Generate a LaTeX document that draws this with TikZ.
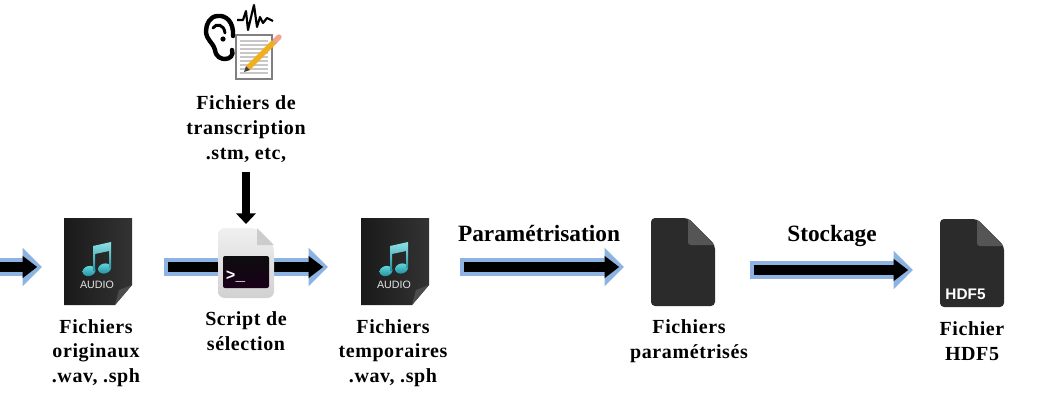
\documentclass[tikz,border=0pt]{standalone}
\usepackage{fontspec}
\setmainfont{Liberation Serif}
\setsansfont{Liberation Sans}
\setmonofont{Liberation Mono}
\usetikzlibrary{calc, arrows.meta}

\definecolor{bleufleche}{HTML}{8DB3E2}
\definecolor{fonce}{HTML}{2B2B2B}
\definecolor{pli}{HTML}{555555}
\definecolor{cyanaudio}{HTML}{5FD3DA}
\definecolor{tealaudio}{HTML}{1F8E9C}
\definecolor{crayon}{HTML}{F2AE1C}
\definecolor{gomme}{HTML}{F0A58C}

\tikzset{
	legende/.style={font=\fontsize{15pt}{18.6pt}\selectfont\bfseries\addfontfeature{LetterSpace=3}, align=center, inner sep=0pt},
	titre/.style={font=\fontsize{17.5pt}{19pt}\selectfont\bfseries, inner sep=0pt, anchor=base},
	flechebleue/.style={draw=bleufleche, line width=14pt, -{Triangle[length=14.5pt, width=28pt, color=bleufleche]}},
	flechenoire/.style={draw=black, line width=7.5pt, shorten <=3pt, shorten >=3.6pt, -{Triangle[length=11pt, width=16pt]}},
	audio/.pic={
		\shade[left color=black!90, right color=black!80] (0,0) -- (68,0) -- (68,67) -- (51,87) -- (0,87) -- cycle;
		\fill[black!70] (68,67) -- (55,72) -- (51,87) -- cycle;
		\shade[top color=cyanaudio, bottom color=tealaudio, rotate around={15:(25,53)}] (25,53) ellipse [x radius=6.5, y radius=5];
		\shade[top color=cyanaudio, bottom color=tealaudio, rotate around={15:(40.5,50.5)}] (40.5,50.5) ellipse [x radius=6.5, y radius=5];
		\shade[top color=cyanaudio!70!white, bottom color=tealaudio] (29,53) -- (29,28) -- (47,24) -- (47,50) -- (45,50) -- (45,33) -- (31,36) -- (31,53) -- cycle;
		\node[font=\sffamily\fontsize{8pt}{9pt}\selectfont, text=black!10, inner sep=0pt] at (33,67) {AUDIO};
	},
	fichier/.pic={
		\fill[fonce, rounded corners=3pt] (0,0) -- (37,0) -- (64,27) -- (64,88) -- (0,88) -- cycle;
		\fill[pli, rounded corners=2pt] (37,0) -- (64,27) -- (37,27) -- cycle;
	}
}

\begin{document}
\begin{tikzpicture}[x=0.75pt, y=-0.75pt]
	\useasboundingbox (0,0) rectangle (1045,415);

	% fleches horizontales
	\coordinate (a1) at (-20,267);
	\coordinate (a2) at (42,267);
	\coordinate (b1) at (164,267);
	\coordinate (b2) at (328,267);
	\coordinate (c1) at (460,267);
	\coordinate (c2) at (624,267);
	\coordinate (d1) at (750,270);
	\coordinate (d2) at (913,270);
	\foreach \debut/\fin in {a1/a2, b1/b2, c1/c2, d1/d2}{
		\draw[flechebleue] (\debut) -- (\fin);
		\draw[flechenoire] (\debut) -- (\fin);
	}

	% icones
	\pic at (64,218) {audio};
	\pic at (361,218) {audio};
	\pic at (651,218) {fichier};
	\pic at (940,219) {fichier};
	\node[font=\sffamily\bfseries\fontsize{11.5pt}{13pt}\selectfont, text=white, inner sep=0pt] (hdf) at (965.5,294) {HDF5};

	% script
	\shade[top color=black!6, bottom color=black!18, rounded corners=5pt] (218,228) -- (257,228) -- (274,245) -- (274,298) -- (218,298) -- cycle;
	\fill[black!20] (257,228) -- (274,245) -- (257,245) -- cycle;
	\shade[top color=black!95, bottom color=black!80!violet, rounded corners=1.5pt] (223,256) rectangle (269,288);
	\node[font=\ttfamily\bfseries\fontsize{12pt}{13pt}\selectfont, text=white, inner sep=0pt] (prompt) at (235.5,277) {>\_};

	% oreille et transcription
	\draw[line width=3.3pt, line cap=round] (233,36) .. controls (234,22) and (226,15) .. (218,16) .. controls (210,16) and (206,24) .. (206,31) .. controls (206,40) and (213,42) .. (215,50) .. controls (216,57) and (221,59) .. (225,59) .. controls (230,59) and (234,55) .. (232,50);
	\draw[line width=2.2pt, line cap=round] (213,28) .. controls (216,23) and (224,24) .. (225,33);
	\fill (223,39) circle [radius=2.6];
	\draw[line width=1.6pt, line join=round] (237,20) -- (243,20) -- (246,11) -- (248,30) -- (252,13) -- (254,5) -- (257,27) -- (260,17) -- (263,23) -- (267,18) -- (273,21);
	\draw[black!50, fill=white, line width=1.2pt] (236,35) rectangle (272,79);
	\foreach \ligne in {41,45,...,75}{
		\draw[black!22, line width=0.9pt] (240,\ligne) -- (268,\ligne);
	}
	\draw[crayon, line width=4pt] (248,68) -- (274,42);
	\draw[black!45, line width=4pt] (274,42) -- (275.5,40.5);
	\draw[gomme, line width=4pt, line cap=round] (275.5,40.5) -- (279,37);
	\fill[black!75] (244,72) -- (250,70) -- (246,66) -- cycle;

	% fleche verticale
	\coordinate (v1) at (246,172);
	\coordinate (v2) at (246,224);
	\draw[line width=6pt, -{Triangle[length=8pt, width=14.5pt]}] (v1) -- (v2);

	% textes
	\node[legende] (transcription) at (246,129) {Fichiers de\\transcription\\.stm, etc,};
	\node[legende] (originaux) at (96,353) {Fichiers\\originaux\\.wav, .sph};
	\node[legende] (selection) at (246,331) {Script de\\sélection};
	\node[legende] (temporaires) at (393,353) {Fichiers\\temporaires\\.wav, .sph};
	\node[legende] (parametrises) at (689,341) {Fichiers\\paramétrisés};
	\node[legende] (sortie) at (972,341) {Fichier\\HDF5};
	\node[titre] (parametrisation) at (539,241) {Paramétrisation};
	\node[titre] (stockage) at (832,241) {Stockage};
\end{tikzpicture}
\end{document}
